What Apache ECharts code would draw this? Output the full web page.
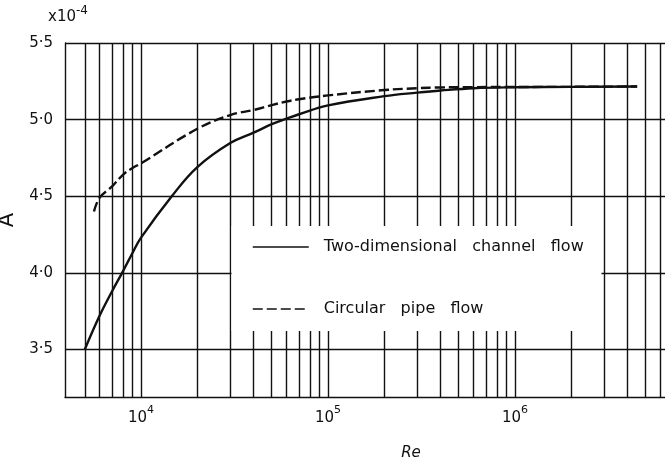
<!DOCTYPE html>
<html>
<head>
<meta charset="utf-8">
<script src="https://cdn.jsdelivr.net/npm/echarts@6/dist/echarts.min.js"></script>
<style>
  html, body { margin: 0; padding: 0; background: #fff; }
  #chart { width: 665px; height: 462px; }
</style>
</head>
<body>
<div id="chart"></div>
<script>
// Reynolds number vs A (x10^-4)
const channelRe = [5000, 6000, 7000, 8000, 9000, 10000, 14600, 20000, 30000, 40000, 50000, 60000, 70000, 100000, 200000, 300000, 400000, 600000, 1000000, 2000000, 4500000];
const channelA = [3.50, 3.72, 3.88, 4.01, 4.13, 4.23, 4.50, 4.69, 4.847, 4.915, 4.97, 5.006, 5.035, 5.093, 5.153, 5.176, 5.19, 5.205, 5.211, 5.214, 5.216];

const pipeRe = [5600, 6000, 7000, 8000, 9000, 10000, 20000, 30000, 40000, 50000, 60000, 70000, 100000, 200000, 300000, 400000, 600000, 1000000, 2000000, 4500000];
const pipeA = [4.40, 4.49, 4.564, 4.64, 4.684, 4.715, 4.94, 5.03, 5.063, 5.095, 5.118, 5.133, 5.158, 5.193, 5.205, 5.21, 5.212, 5.213, 5.214, 5.216];

// grid lines of the log paper
const gridRe = [5000, 6000, 7000, 8000, 9000,
  10000, 20000, 30000, 40000, 50000, 60000, 70000, 80000, 90000,
  100000, 200000, 300000, 400000, 500000, 600000, 700000, 800000, 900000,
  1000000, 2000000, 3000000, 4000000, 5000000, 6000000];
const gridA = [3.5, 4.0, 4.5, 5.0, 5.5];

const ink = '#111';
const font = 'DejaVu Sans';

const chart = echarts.init(document.getElementById('chart'));

function dotted(v) {
  return v.toFixed(1).replace('.', '·');
}

function powerLabel(v) {
  const e = Math.round(Math.log10(v));
  if (Math.abs(Math.log10(v) - e) > 1e-6) return '';
  return '10{sup|' + e + '}';
}

const supStyle = { fontSize: 11, fontFamily: font, color: ink, verticalAlign: 'top', lineHeight: 11 };
const clear = 'rgba(0,0,0,0)';

const gridLines = {
  silent: true,
  animation: false,
  symbol: ['none', 'none'],
  label: { show: false },
  emphasis: { disabled: true },
  lineStyle: { color: ink, width: 1.4, type: 'solid' },
  data: gridRe.map((v) => ({ xAxis: v })).concat(gridA.map((v) => ({ yAxis: v })))
};

const option = {
  animation: false,
  backgroundColor: '#fff',
  title: {
    text: 'x10{sup|-4}',
    left: 43,
    top: 0,
    textStyle: {
      fontFamily: font,
      fontSize: 15,
      fontWeight: 'normal',
      color: ink,
      lineHeight: 24,
      rich: { sup: { fontSize: 12, fontFamily: font, color: ink, verticalAlign: 'top', lineHeight: 12 } }
    }
  },
  grid: { left: 65, top: 43, width: 637, height: 354, outerBoundsMode: 'none', containLabel: false },
  legend: {
    orient: 'vertical',
    left: 247,
    top: 234,
    z: 60,
    itemWidth: 56,
    itemHeight: 14,
    itemGap: 46,
    selectedMode: false,
    lineStyle: { width: 1.5 },
    itemStyle: { color: clear, borderColor: clear, borderWidth: 0 },
    formatter: (name) => name.split(' ').join('   '),
    textStyle: { fontFamily: font, fontSize: 16, color: ink, padding: [0, 0, 0, 10] },
    data: ['Two-dimensional channel flow', 'Circular pipe flow']
  },
  xAxis: {
    type: 'log',
    logBase: 10,
    min: 3920,
    max: 10000000,
    name: 'Re',
    nameLocation: 'middle',
    nameGap: 49,
    nameTextStyle: { fontFamily: font, fontSize: 15, fontStyle: 'italic', color: ink, padding: [0, 0, 0, 55] },
    axisLine: { show: true, lineStyle: { color: ink, width: 1.4 } },
    axisTick: { show: false },
    splitLine: { show: false },
    minorTick: { show: false },
    axisLabel: {
      color: ink,
      fontFamily: font,
      fontSize: 15,
      lineHeight: 26,
      margin: 8,
      showMinLabel: false,
      formatter: powerLabel,
      rich: { sup: supStyle }
    }
  },
  yAxis: {
    type: 'value',
    min: 3.19,
    max: 5.5,
    name: 'A',
    nameLocation: 'middle',
    nameGap: 28,
    nameRotate: 90,
    nameTextStyle: { fontFamily: font, fontSize: 21, color: ink },
    axisLine: { show: true, lineStyle: { color: ink, width: 1.4 } },
    axisTick: { show: false },
    splitLine: { show: false },
    axisLabel: {
      customValues: gridA,
      formatter: dotted,
      color: ink,
      fontFamily: font,
      fontSize: 15,
      margin: 12
    }
  },
  graphic: [
    {
      type: 'rect',
      z: 50,
      silent: true,
      shape: { x: 231.5, y: 226, width: 370, height: 105 },
      style: { fill: '#fff' }
    }
  ],
  series: [
    {
      name: 'Two-dimensional channel flow',
      type: 'line',
      color: ink,
      data: channelRe.map((r, i) => [r, channelA[i]]),
      smooth: 0.4,
      symbol: 'none',
      lineStyle: { color: ink, width: 2.4 },
      emphasis: { disabled: true },
      markLine: gridLines
    },
    {
      name: 'Circular pipe flow',
      type: 'line',
      color: ink,
      data: pipeRe.map((r, i) => [r, pipeA[i]]),
      smooth: 0.4,
      symbol: 'none',
      lineStyle: { color: ink, width: 2.4, type: [10, 4] },
      emphasis: { disabled: true }
    }
  ]
};

chart.setOption(option);
</script>
</body>
</html>
